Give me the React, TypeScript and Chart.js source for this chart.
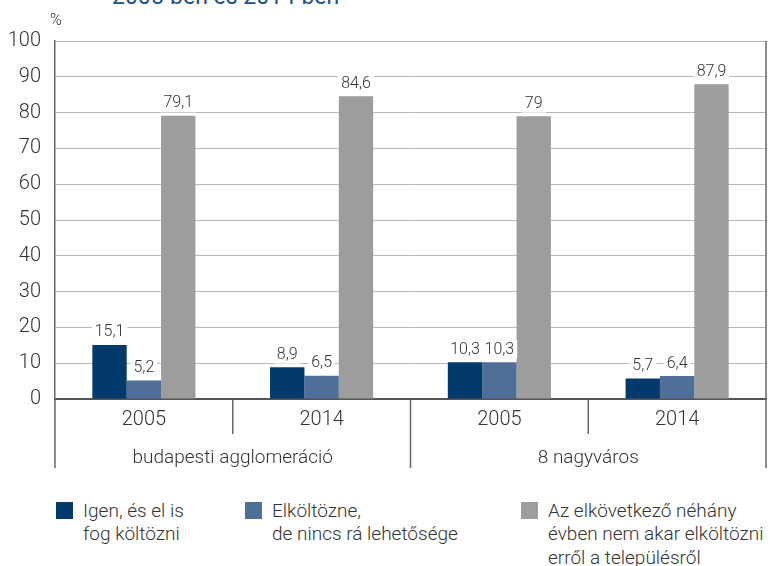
import React, { useEffect, useRef } from 'react';
import { Chart, registerables } from 'chart.js';

Chart.register(...registerables);

const FONT = 'Roboto, "DejaVu Sans", sans-serif';
const TEXT = '#333333';

const titleText = '2005-ben és 2014-ben';
const unitLabel = '%';
const categories = ['2005', '2014', '2005', '2014'];
const groups = ['budapesti agglomeráció', '8 nagyváros'];
const seriesNames = [
  ['Igen, és el is', 'fog költözni'],
  ['Elköltözne,', 'de nincs rá lehetősége'],
  ['Az elkövetkező néhány', 'évben nem akar elköltözni', 'erről a településről'],
];
const seriesColors = ['#023a6b', '#4f6f97', '#9d9d9d'];
const igen = [15.1, 8.9, 10.3, 5.7];
const elkoltozne = [5.2, 6.5, 10.3, 6.4];
const nemAkar = [79.1, 84.6, 79, 87.9];
const yMin = 0;
const yMax = 100;
const yStep = 10;

const fmt = (v: number) => String(v).replace('.', ',');

const decorPlugin = {
  id: 'decor',
  afterDatasetsDraw(chart: any) {
    const ctx = chart.ctx;
    ctx.save();
    ctx.font = `300 16px ${FONT}`;
    const items: { x: number; y: number; t: string; w: number }[] = [];
    chart.data.datasets.forEach((ds: any, di: number) => {
      const meta = chart.getDatasetMeta(di);
      meta.data.forEach((el: any, i: number) => {
        const t = fmt(ds.data[i]);
        const w = ctx.measureText(t).width;
        items.push({ x: el.x, y: el.y - 12.5, t, w });
      });
    });
    ctx.fillStyle = '#ffffff';
    items.forEach((it) => {
      ctx.fillRect(it.x - it.w / 2 - 3, it.y - 9, it.w + 6, 18);
    });
    ctx.fillStyle = TEXT;
    ctx.textAlign = 'center';
    ctx.textBaseline = 'middle';
    items.forEach((it) => ctx.fillText(it.t, it.x, it.y));
    ctx.restore();
  },
  afterDraw(chart: any) {
    const ctx = chart.ctx;
    const xs = chart.scales.x;
    const area = chart.chartArea;
    const n = chart.data.labels.length;
    ctx.save();
    ctx.strokeStyle = '#666666';
    ctx.lineWidth = 1.5;
    const bounds: number[] = [];
    for (let i = 0; i <= n; i++) {
      let x: number;
      if (i === 0) x = xs.left;
      else if (i === n) x = xs.right;
      else x = (xs.getPixelForValue(i - 1) + xs.getPixelForValue(i)) / 2;
      bounds.push(x);
      const long = i % 2 === 0;
      ctx.beginPath();
      ctx.moveTo(x, area.bottom);
      ctx.lineTo(x, long ? area.bottom + 69 : area.bottom + 35);
      ctx.stroke();
    }
    // right frame
    ctx.beginPath();
    ctx.moveTo(xs.right, area.top);
    ctx.lineTo(xs.right, area.bottom);
    ctx.stroke();
    ctx.fillStyle = TEXT;
    ctx.font = `300 19px ${FONT}`;
    ctx.textAlign = 'center';
    ctx.textBaseline = 'middle';
    groups.forEach((g, gi) => {
      const cx = (bounds[gi * 2] + bounds[gi * 2 + 2]) / 2;
      ctx.fillText(g, cx, area.bottom + 59);
    });
    ctx.restore();
  },
};

export default function App() {
  const ref = useRef<HTMLCanvasElement>(null);
  useEffect(() => {
    const chart = new Chart(ref.current as HTMLCanvasElement, {
      type: 'bar',
      data: {
        labels: categories,
        datasets: [
          { label: seriesNames[0].join(' '), data: igen, backgroundColor: seriesColors[0] },
          { label: seriesNames[1].join(' '), data: elkoltozne, backgroundColor: seriesColors[1] },
          { label: seriesNames[2].join(' '), data: nemAkar, backgroundColor: seriesColors[2] },
        ],
      },
      options: {
        responsive: false,
        animation: false,
        layout: { padding: { top: 41, right: 4, left: 0, bottom: 0 } },
        datasets: { bar: { categoryPercentage: 0.58, barPercentage: 1 } } as any,
        plugins: {
          legend: { display: false },
          tooltip: { enabled: false },
          title: { display: false },
        },
        scales: {
          x: {
            grid: { display: false, drawTicks: false },
            border: { display: true, color: '#555555', width: 2 },
            ticks: { font: { family: FONT, size: 20, weight: 300 as any }, color: TEXT, padding: 9 },
            afterFit: (s: any) => {
              s.height = 81;
            },
          },
          y: {
            min: yMin,
            max: yMax,
            ticks: {
              stepSize: yStep,
              padding: 14,
              font: { family: FONT, size: 20, weight: 300 as any },
              color: TEXT,
            },
            grid: { color: '#b8b8b8', lineWidth: 1, drawTicks: false },
            border: { display: true, color: '#666666', width: 1.5 },
            afterFit: (s: any) => {
              s.width = 55;
            },
          },
        },
      },
      plugins: [decorPlugin],
    });
    return () => chart.destroy();
  }, []);

  const legendLeft = [56, 245, 521];
  return (
    <div
      style={{
        position: 'fixed',
        left: 0,
        top: 0,
        width: 770,
        height: 566,
        overflow: 'hidden',
        background: '#ffffff',
        fontFamily: FONT,
        color: TEXT,
      }}
    >
      <div
        style={{
          position: 'absolute',
          left: 112,
          top: -15,
          fontSize: 23,
          lineHeight: '23px',
          color: '#1c4f8a',
          whiteSpace: 'nowrap',
        }}
      >
        {titleText}
      </div>
      <canvas ref={ref} width={770} height={480} style={{ position: 'absolute', left: 0, top: 0 }} />
      <div
        style={{
          position: 'absolute',
          left: 50,
          top: 10,
          fontSize: 16,
          lineHeight: '20px',
          fontWeight: 300,
        }}
      >
        {unitLabel}
      </div>
      {seriesNames.map((lines, i) => (
        <div key={i}>
          <div
            style={{
              position: 'absolute',
              left: legendLeft[i],
              top: 502,
              width: 17,
              height: 17,
              background: seriesColors[i],
            }}
          />
          <div
            style={{
              position: 'absolute',
              left: legendLeft[i] + 27,
              top: 498.5,
              fontSize: 19,
              lineHeight: '23.5px',
              fontWeight: 300,
              whiteSpace: 'nowrap',
            }}
          >
            {lines.map((l, j) => (
              <div key={j}>{l}</div>
            ))}
          </div>
        </div>
      ))}
    </div>
  );
}
